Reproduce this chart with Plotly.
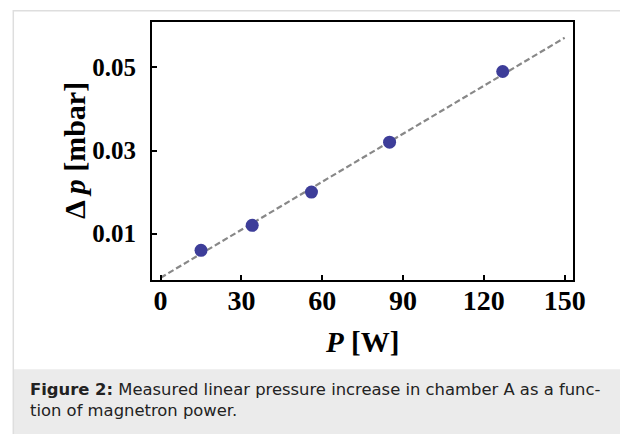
import plotly.graph_objects as go

# ---- data ----
power_w = [15, 34, 56, 85, 127]
delta_p_mbar = [0.006, 0.012, 0.020, 0.032, 0.049]
fit_power_w = [0, 150]
fit_delta_p = [-0.0006, 0.0571]
x_tick_vals = [0, 30, 60, 90, 120, 150]
x_tick_text = ["0", "30", "60", "90", "120", "150"]
y_tick_vals = [0.01, 0.03, 0.05]
y_tick_text = ["0.01", "0.03", "0.05"]
caption = ("<b>Figure 2:</b> Measured linear pressure increase in chamber A as a func-"
           "<br>tion of magnetron power.")

OFF = 8  # page body margin of the browser
W, H = 628 - OFF, 434 - OFF
L, R, T, B = 152 - OFF, 573 - OFF, 20 - OFF, 280 - OFF


def px(x):
    return (x - OFF - L) / (R - L)


def py(y):
    return (B - (y - OFF)) / (B - T)


serif = "Liberation Serif"
fig = go.Figure()
fig.add_trace(go.Scatter(x=fit_power_w, y=fit_delta_p, mode="lines",
                         line=dict(color="#888888", width=2.2, dash="6px,3px"),
                         hoverinfo="skip", showlegend=False))
fig.add_trace(go.Scatter(x=power_w, y=delta_p_mbar, mode="markers",
                         marker=dict(color="#3d3d99", size=13),
                         showlegend=False))

axis_common = dict(showgrid=False, zeroline=False, showline=True, linecolor="black",
                   linewidth=2, mirror=True, ticks="inside", ticklen=5, tickwidth=1.5,
                   tickcolor="black")
fig.update_xaxes(range=[-3.2, 153.1], tickvals=x_tick_vals, ticktext=x_tick_text,
                 ticklabelstandoff=-6,
                 tickfont=dict(family=serif, size=28, color="black", weight="bold"),
                 **axis_common)
fig.update_yaxes(range=[-0.00114, 0.0609], tickvals=y_tick_vals, ticktext=y_tick_text,
                 ticklabelstandoff=9,
                 tickfont=dict(family=serif, size=25, color="black", weight="bold"),
                 **axis_common)

shapes = [
    dict(type="rect", xref="paper", yref="paper", x0=px(13.5), x1=px(640), y0=py(370), y1=py(440),
         fillcolor="#ebebeb", line=dict(width=0), layer="below"),
    dict(type="line", xref="paper", yref="paper", x0=px(13.3), x1=px(640), y0=py(8.7), y1=py(8.7),
         line=dict(color="#dedede", width=1.5)),
    dict(type="line", xref="paper", yref="paper", x0=px(13.3), x1=px(13.3), y0=py(8), y1=py(440),
         line=dict(color="#dedede", width=1.5)),
]

annotations = [
    dict(text="<b>Δ <i>p</i> [mbar]</b>", xref="paper", yref="paper", x=px(74), y=py(150),
         xanchor="center", yanchor="middle", textangle=-90, showarrow=False,
         font=dict(family=serif, size=30, color="black")),
    dict(text="<b><i>P</i> [W]</b>", xref="paper", yref="paper", x=px(362), y=py(342),
         xanchor="center", yanchor="middle", showarrow=False,
         font=dict(family=serif, size=29, color="black")),
    dict(text=caption, xref="paper", yref="paper", x=px(28), y=py(401),
         xanchor="left", yanchor="middle", align="left", showarrow=False,
         font=dict(family="DejaVu Sans", size=16.4, color="#222222")),
]

fig.update_layout(width=W, height=H, margin=dict(l=L, r=W - R, t=T, b=H - B),
                  paper_bgcolor="white", plot_bgcolor="white",
                  shapes=shapes, annotations=annotations, showlegend=False)

fig.write_html("out.html")
